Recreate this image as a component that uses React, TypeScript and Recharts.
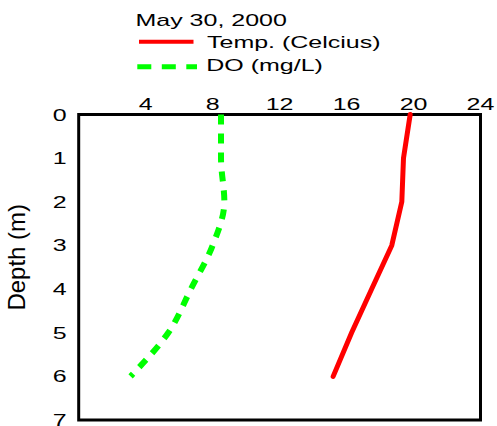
import { Line, LineChart, ReferenceArea, XAxis, YAxis } from "recharts";

// depth profile, one reading per metre
const depths = [0, 1, 2, 3, 4, 5, 6];
const tempC = [19.8, 19.4, 19.3, 18.7, 17.5, 16.3, 15.2];
const doMgL = [8.5, 8.5, 8.7, 8.0, 6.7, 5.35, 3.1];

const xTicks = [4, 8, 12, 16, 20, 24];
const yTicks = [0, 1, 2, 3, 4, 5, 6, 7];

const legendTitle = "May 30, 2000";
const tempName = "Temp. (Celcius)";
const doName = "DO (mg/L)";

const FONT = "'Liberation Sans', Arial, sans-serif";
const FS = 17;
const SX = 1.47; // wide lettering on the horizontal labels

const data = depths.map((d, i) => ({ depth: d, temp: tempC[i], dox: doMgL[i] }));

function TopTick({ x, y, payload }: any) {
  return (
    <text
      transform={`translate(${x} ${y}) scale(${SX} 1)`}
      textAnchor="middle"
      fontFamily={FONT}
      fontSize={FS}
      fill="#000"
    >
      {payload.value}
    </text>
  );
}

function LeftTick({ x, y, payload }: any) {
  return (
    <text
      transform={`translate(${x} ${y}) scale(${SX} 1)`}
      textAnchor="end"
      dy="0.355em"
      fontFamily={FONT}
      fontSize={FS}
      fill="#000"
    >
      {payload.value}
    </text>
  );
}

function DepthLabel({ viewBox }: any) {
  const cy = viewBox.y + viewBox.height / 2 - 10;
  return (
    <text
      transform={`translate(25 ${cy}) rotate(-90)`}
      textAnchor="middle"
      fontFamily={FONT}
      fontSize={24}
      fill="#000"
    >
      Depth (m)
    </text>
  );
}

function LegendBox() {
  const label = (x: number, y: number, s: string) => (
    <text
      transform={`translate(${x} ${y}) scale(${SX} 1)`}
      fontFamily={FONT}
      fontSize={FS}
      fill="#000"
    >
      {s}
    </text>
  );
  return (
    <svg
      width={497}
      height={90}
      style={{ position: "absolute", left: 0, top: 0, pointerEvents: "none" }}
    >
      {label(135.5, 26, legendTitle)}
      <line x1={139} y1={41.7} x2={193.5} y2={41.7} stroke="#ff0000" strokeWidth={4} />
      {label(207, 48.3, tempName)}
      <line
        x1={137.3}
        y1={66.7}
        x2={197}
        y2={66.7}
        stroke="#00ff00"
        strokeWidth={5}
        strokeDasharray="14 10.5"
      />
      {label(206.3, 71.3, doName)}
    </svg>
  );
}

export default function App() {
  return (
    <div style={{ position: "absolute", left: 0, top: 0, width: 497, height: 426, background: "#fff" }}>
      <LineChart
        width={497}
        height={426}
        data={data}
        layout="vertical"
        margin={{ top: 0, right: 16.5, bottom: 6, left: 0 }}
      >
        <XAxis
          type="number"
          orientation="top"
          domain={[0, 24]}
          ticks={xTicks}
          height={114.5}
          axisLine={false}
          tickLine={false}
          tickSize={3}
          tickMargin={2}
          tick={<TopTick />}
          interval={0}
        />
        <YAxis
          type="number"
          dataKey="depth"
          domain={[0, 7]}
          ticks={yTicks}
          width={78.7}
          axisLine={false}
          tickLine={false}
          tickSize={6}
          tickMargin={6}
          tick={<LeftTick />}
          interval={0}
          label={<DepthLabel />}
        />
        <ReferenceArea
          x1={0}
          x2={24}
          y1={0}
          y2={7}
          fill="none"
          fillOpacity={0}
          stroke="#000"
          strokeWidth={3}
        />
        <Line
          dataKey="dox"
          type="monotone"
          stroke="#00ff00"
          strokeWidth={6}
          strokeDasharray="10 9"
          dot={false}
          activeDot={false}
          isAnimationActive={false}
        />
        <Line
          dataKey="temp"
          type="linear"
          stroke="#ff0000"
          strokeWidth={5}
          strokeLinecap="round"
          dot={false}
          activeDot={false}
          isAnimationActive={false}
        />
      </LineChart>
      <LegendBox />
    </div>
  );
}
